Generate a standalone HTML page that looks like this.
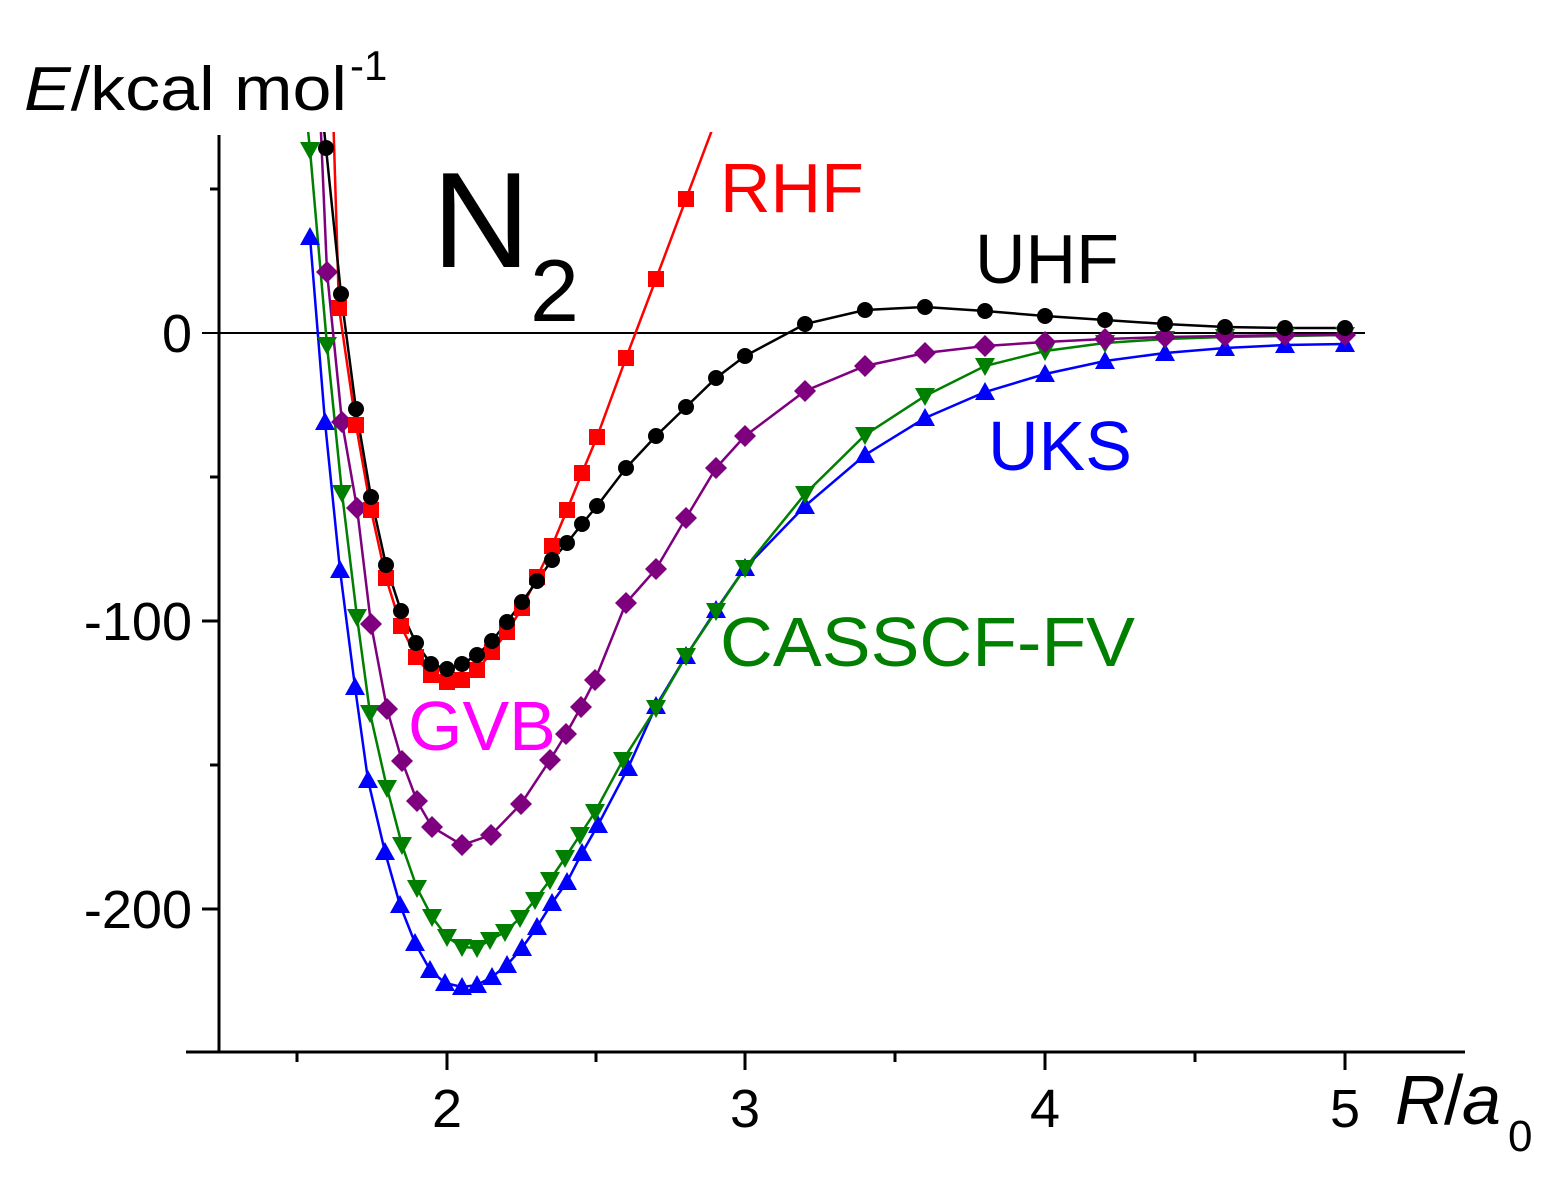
<!DOCTYPE html>
<html><head><meta charset="utf-8"><style>
html,body{margin:0;padding:0;background:#fff;}
svg{display:block;font-family:"Liberation Sans",Arial,sans-serif;}
</style></head><body>
<svg width="1568" height="1187" viewBox="0 0 1568 1187" xmlns="http://www.w3.org/2000/svg">
<defs>
<rect id="sq" x="-8" y="-8" width="16" height="16" fill="#ff0000"/>
<circle id="ci" r="8" fill="#000"/>
<polygon id="di" points="0,-11 11,0 0,11 -11,0" fill="#7f007f"/>
<polygon id="dn" points="-10,-8 10,-8 0,10" fill="#007f00"/>
<polygon id="up" points="-10,8 10,8 0,-10" fill="#0000ff"/>
<clipPath id="cp"><rect x="219" y="132" width="1250" height="920"/></clipPath>
</defs>
<g stroke="#000" stroke-width="3" fill="none">
<line x1="219" y1="135" x2="219" y2="1053"/>
<line x1="186" y1="1052" x2="1465" y2="1052"/>
<line x1="202" y1="333" x2="1365" y2="333" stroke-width="2"/>
<line x1="202" y1="621" x2="219" y2="621"/>
<line x1="202" y1="909" x2="219" y2="909"/>
<line x1="210" y1="189" x2="219" y2="189"/>
<line x1="210" y1="477" x2="219" y2="477"/>
<line x1="210" y1="765" x2="219" y2="765"/>
<line x1="447" y1="1052" x2="447" y2="1070"/>
<line x1="745" y1="1052" x2="745" y2="1070"/>
<line x1="1045" y1="1052" x2="1045" y2="1070"/>
<line x1="1345" y1="1052" x2="1345" y2="1070"/>
<line x1="297" y1="1052" x2="297" y2="1062"/>
<line x1="596" y1="1052" x2="596" y2="1062"/>
<line x1="895" y1="1052" x2="895" y2="1062"/>
<line x1="1195" y1="1052" x2="1195" y2="1062"/>
</g>
<g font-size="54" fill="#000">
<text x="192" y="352" text-anchor="end">0</text>
<text x="192" y="640" text-anchor="end">-100</text>
<text x="192" y="928" text-anchor="end">-200</text>
<text x="447" y="1127" text-anchor="middle">2</text>
<text x="745" y="1127" text-anchor="middle">3</text>
<text x="1045" y="1127" text-anchor="middle">4</text>
<text x="1345" y="1127" text-anchor="middle">5</text>
</g>
<text x="24" y="110" font-size="62" textLength="323" lengthAdjust="spacingAndGlyphs"><tspan font-style="italic">E</tspan>/kcal mol</text>
<text x="350" y="80" font-size="42">-1</text>
<text x="1395" y="1124" font-size="70" font-style="italic">R</text>
<text x="1444" y="1124" font-size="70">/</text>
<text x="1462" y="1124" font-size="70" font-style="italic">a</text>
<text x="1508" y="1151" font-size="44">0</text>
<text x="432" y="267" font-size="136">N</text>
<text x="530" y="321" font-size="88">2</text>
<text x="720" y="212" font-size="70" fill="#ff0000">RHF</text>
<text x="975" y="283" font-size="70" fill="#000">UHF</text>
<text x="988" y="470" font-size="70" fill="#0000ff">UKS</text>
<text x="720" y="666" font-size="70" fill="#007f00" textLength="415" lengthAdjust="spacingAndGlyphs">CASSCF-FV</text>
<text x="408" y="750" font-size="70" fill="#ff00ff">GVB</text>
<g clip-path="url(#cp)" fill="none" stroke-width="2.5">
<polyline stroke="#0000ff" points="310,237 325,422 340,570 355,687 368,780 385,852 400,905 415,943 430,970 445,983 462,987 477,985 492,977 507,965 522,948 537,927 552,903 567,882 582,853 598,825 628,768 656,706 686,656 716,610 745,568 805,506 865,455 925,418 985,392 1045,374 1105,361 1165,353 1225,348 1285,345 1345,344"/>
<polyline stroke="#007f00" points="306,110 310,150 327,345 342,493 357,617 370,713 387,788 402,845 417,888 432,917 447,937 462,947 477,948 490,940 505,932 520,918 535,900 550,880 565,858 580,835 595,812 623,760 656,708 686,656 716,611 745,568 805,494 865,435 925,396 985,366 1045,351 1105,343 1165,339 1225,337 1285,336 1345,335"/>
<polyline stroke="#7f007f" points="320,110 327,272 342,422 357,508 371,624 387,709 402,761 417,801 432,827 462,845 491,835 521,804 550,760 566,734 581,707 595,680 626,603 656,569 686,518 716,468 745,436 805,391 865,366 925,353 985,346 1045,342 1105,339 1165,337 1225,336 1285,335 1345,335"/>
<polyline stroke="#ff0000" points="333,110 339,308 356,425 371,510 386,578 401,626 416,657 431,675 447,682 462,680 477,670 492,652 507,632 522,608 537,577 552,546 567,510 582,473 597,437 626,358 656,279 686,199 712,130"/>
<polyline stroke="#000" points="322,110 326,148 341,294 356,409 371,497 386,565 401,611 416,643 431,664 447,669 462,664 477,655 492,641 507,622 522,602 537,581 552,560 567,543 582,524 597,506 626,468 656,436 686,407 716,378 745,356 805,324 865,310 925,307 985,311 1045,316 1105,320 1165,324 1225,327 1285,328 1345,328"/>
</g>
<g>
<use href="#up" x="310" y="237"/><use href="#up" x="325" y="422"/><use href="#up" x="340" y="570"/><use href="#up" x="355" y="687"/><use href="#up" x="368" y="780"/><use href="#up" x="385" y="852"/><use href="#up" x="400" y="905"/><use href="#up" x="415" y="943"/><use href="#up" x="430" y="970"/><use href="#up" x="445" y="983"/><use href="#up" x="462" y="987"/><use href="#up" x="477" y="985"/><use href="#up" x="492" y="977"/><use href="#up" x="507" y="965"/><use href="#up" x="522" y="948"/><use href="#up" x="537" y="927"/><use href="#up" x="552" y="903"/><use href="#up" x="567" y="882"/><use href="#up" x="582" y="853"/><use href="#up" x="598" y="825"/><use href="#up" x="628" y="768"/><use href="#up" x="656" y="706"/><use href="#up" x="686" y="656"/><use href="#up" x="716" y="610"/><use href="#up" x="745" y="568"/><use href="#up" x="805" y="506"/><use href="#up" x="865" y="455"/><use href="#up" x="925" y="418"/><use href="#up" x="985" y="392"/><use href="#up" x="1045" y="374"/><use href="#up" x="1105" y="361"/><use href="#up" x="1165" y="353"/><use href="#up" x="1225" y="348"/><use href="#up" x="1285" y="345"/><use href="#up" x="1345" y="344"/>
<use href="#dn" x="310" y="150"/><use href="#dn" x="327" y="345"/><use href="#dn" x="342" y="493"/><use href="#dn" x="357" y="617"/><use href="#dn" x="370" y="713"/><use href="#dn" x="387" y="788"/><use href="#dn" x="402" y="845"/><use href="#dn" x="417" y="888"/><use href="#dn" x="432" y="917"/><use href="#dn" x="447" y="937"/><use href="#dn" x="462" y="947"/><use href="#dn" x="477" y="948"/><use href="#dn" x="490" y="940"/><use href="#dn" x="505" y="932"/><use href="#dn" x="520" y="918"/><use href="#dn" x="535" y="900"/><use href="#dn" x="550" y="880"/><use href="#dn" x="565" y="858"/><use href="#dn" x="580" y="835"/><use href="#dn" x="595" y="812"/><use href="#dn" x="623" y="760"/><use href="#dn" x="656" y="708"/><use href="#dn" x="686" y="656"/><use href="#dn" x="716" y="611"/><use href="#dn" x="745" y="568"/><use href="#dn" x="805" y="494"/><use href="#dn" x="865" y="435"/><use href="#dn" x="925" y="396"/><use href="#dn" x="985" y="366"/><use href="#dn" x="1045" y="351"/><use href="#dn" x="1105" y="343"/><use href="#dn" x="1165" y="339"/><use href="#dn" x="1225" y="337"/><use href="#dn" x="1285" y="336"/><use href="#dn" x="1345" y="335"/>
<use href="#di" x="327" y="272"/><use href="#di" x="342" y="422"/><use href="#di" x="357" y="508"/><use href="#di" x="371" y="624"/><use href="#di" x="387" y="709"/><use href="#di" x="402" y="761"/><use href="#di" x="417" y="801"/><use href="#di" x="432" y="827"/><use href="#di" x="462" y="845"/><use href="#di" x="491" y="835"/><use href="#di" x="521" y="804"/><use href="#di" x="550" y="760"/><use href="#di" x="566" y="734"/><use href="#di" x="581" y="707"/><use href="#di" x="595" y="680"/><use href="#di" x="626" y="603"/><use href="#di" x="656" y="569"/><use href="#di" x="686" y="518"/><use href="#di" x="716" y="468"/><use href="#di" x="745" y="436"/><use href="#di" x="805" y="391"/><use href="#di" x="865" y="366"/><use href="#di" x="925" y="353"/><use href="#di" x="985" y="346"/><use href="#di" x="1045" y="342"/><use href="#di" x="1105" y="339"/><use href="#di" x="1165" y="337"/><use href="#di" x="1225" y="336"/><use href="#di" x="1285" y="335"/><use href="#di" x="1345" y="335"/>
<use href="#sq" x="339" y="308"/><use href="#sq" x="356" y="425"/><use href="#sq" x="371" y="510"/><use href="#sq" x="386" y="578"/><use href="#sq" x="401" y="626"/><use href="#sq" x="416" y="657"/><use href="#sq" x="431" y="675"/><use href="#sq" x="447" y="682"/><use href="#sq" x="462" y="680"/><use href="#sq" x="477" y="670"/><use href="#sq" x="492" y="652"/><use href="#sq" x="507" y="632"/><use href="#sq" x="522" y="608"/><use href="#sq" x="537" y="577"/><use href="#sq" x="552" y="546"/><use href="#sq" x="567" y="510"/><use href="#sq" x="582" y="473"/><use href="#sq" x="597" y="437"/><use href="#sq" x="626" y="358"/><use href="#sq" x="656" y="279"/><use href="#sq" x="686" y="199"/>
<use href="#ci" x="326" y="148"/><use href="#ci" x="341" y="294"/><use href="#ci" x="356" y="409"/><use href="#ci" x="371" y="497"/><use href="#ci" x="386" y="565"/><use href="#ci" x="401" y="611"/><use href="#ci" x="416" y="643"/><use href="#ci" x="431" y="664"/><use href="#ci" x="447" y="669"/><use href="#ci" x="462" y="664"/><use href="#ci" x="477" y="655"/><use href="#ci" x="492" y="641"/><use href="#ci" x="507" y="622"/><use href="#ci" x="522" y="602"/><use href="#ci" x="537" y="581"/><use href="#ci" x="552" y="560"/><use href="#ci" x="567" y="543"/><use href="#ci" x="582" y="524"/><use href="#ci" x="597" y="506"/><use href="#ci" x="626" y="468"/><use href="#ci" x="656" y="436"/><use href="#ci" x="686" y="407"/><use href="#ci" x="716" y="378"/><use href="#ci" x="745" y="356"/><use href="#ci" x="805" y="324"/><use href="#ci" x="865" y="310"/><use href="#ci" x="925" y="307"/><use href="#ci" x="985" y="311"/><use href="#ci" x="1045" y="316"/><use href="#ci" x="1105" y="320"/><use href="#ci" x="1165" y="324"/><use href="#ci" x="1225" y="327"/><use href="#ci" x="1285" y="328"/><use href="#ci" x="1345" y="328"/>
</g>
</svg>
</body></html>
